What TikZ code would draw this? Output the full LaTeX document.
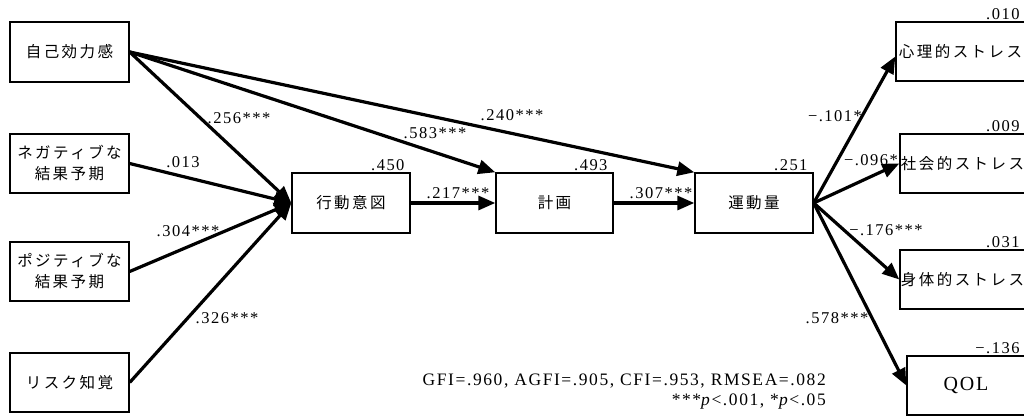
\documentclass[tikz,border=0pt]{standalone}
\usepackage{fontspec}
\setmainfont{Liberation Serif}
\newfontfamily\jpfont{Noto Sans CJK JP}[LetterSpace=16]
\newfontfamily\numfont{Liberation Serif}[LetterSpace=9]
\usetikzlibrary{arrows.meta, positioning}
\tikzset{
  varbox/.style={rectangle, draw=black, line width=1.4pt, fill=white, inner sep=0pt, align=center, font=\jpfont\fontsize{15.5}{21}\selectfont},
  coef/.style={inner sep=0pt, font=\numfont\fontsize{16.5}{18}\selectfont},
  rsq/.style={above left, inner sep=1pt, xshift=-5pt, font=\numfont\fontsize{16.5}{18}\selectfont},
  arrowline/.style={line width=3.2pt, -{Triangle[length=17pt,width=14pt]}}
}

\begin{document}
\begin{tikzpicture}[x=1pt, y=-1pt]
    \clip (0,0) rectangle (1024,419);

    % Variables de la izquierda
    \node[varbox, minimum width=119pt, minimum height=60pt] (self) at (69.5, 52) {自己効力感};
    \node[varbox, minimum width=119pt, minimum height=59pt] (neg) at (69.5, 163.5) {ネガティブな\\結果予期};
    \node[varbox, minimum width=119pt, minimum height=59pt] (pos) at (69.5, 271.5) {ポジティブな\\結果予期};
    \node[varbox, minimum width=119pt, minimum height=59pt] (risk) at (69.5, 382.5) {リスク知覚};

    % Cadena central
    \node[varbox, minimum width=118pt, minimum height=60pt] (intent) at (351, 203) {行動意図};
    \node[varbox, minimum width=117pt, minimum height=60pt] (plan) at (554.5, 203) {計画};
    \node[varbox, minimum width=118pt, minimum height=60pt] (amount) at (754, 203) {運動量};

    % Resultados (lado derecho, cortados por el borde)
    \node[varbox, minimum width=129pt, minimum height=59pt] (psy) at (960.5, 51.5) {心理的ストレス};
    \node[varbox, minimum width=125pt, minimum height=59pt] (soc) at (962.5, 163.5) {社会的ストレス};
    \node[varbox, minimum width=125pt, minimum height=59pt] (phys) at (962.5, 279.5) {身体的ストレス};
    \node[varbox, minimum width=118pt, minimum height=59pt, font=\numfont\fontsize{20}{21}\selectfont] (qol) at (966, 385.5) {QOL};

    % R cuadrado
    \node[rsq] (r450) at (intent.north east) {.450};
    \node[rsq] (r493) at (plan.north east) {.493};
    \node[rsq] (r251) at (amount.north east) {.251};
    \node[rsq] (r010) at (psy.north east) {.010};
    \node[rsq] (r009) at (soc.north east) {.009};
    \node[rsq] (r031) at (phys.north east) {.031};
    \node[rsq] (r136) at (qol.north east) {−.136};

    % Caminos
    \draw[arrowline] (self.east) -- (intent.west);
    \draw[arrowline] (neg.east) -- (intent.west);
    \draw[arrowline] (pos.east) -- (intent.west);
    \draw[arrowline] (risk.east) -- (intent.west);
    \draw[arrowline] (self.east) -- (plan.north west);
    \draw[arrowline] (self.east) -- (amount.north west);
    \draw[arrowline] (intent.east) -- (plan.west);
    \draw[arrowline] (plan.east) -- (amount.west);
    \draw[arrowline] (amount.east) -- ([yshift=-5pt]psy.west);
    \draw[arrowline] (amount.east) -- (soc.west);
    \draw[arrowline] (amount.east) -- (phys.west);
    \draw[arrowline] (amount.east) -- (qol.west);

    % Coeficientes
    \node[coef] (c256) at (239, 118) {.256***};
    \node[coef] (c013) at (183, 162) {.013};
    \node[coef] (c304) at (188, 231) {.304***};
    \node[coef] (c326) at (227, 318) {.326***};
    \node[coef] (c583) at (435, 133) {.583***};
    \node[coef] (c240) at (512, 115) {.240***};
    \node[coef] (c217) at (458, 193) {.217***};
    \node[coef] (c307) at (661, 193) {.307***};
    \node[coef] (c101) at (835, 116) {−.101*};
    \node[coef] (c096) at (871, 160) {−.096*};
    \node[coef] (c176) at (886, 230) {−.176***};
    \node[coef] (c578) at (837, 318) {.578***};

    % Ajuste del modelo
    \node[coef, align=right, anchor=east, font=\numfont\fontsize{17.5}{20}\selectfont] (fit) at (826, 392)
        {GFI=.960, AGFI=.905, CFI=.953, RMSEA=.082\\***\textit{p}<.001, *\textit{p}<.05};

\end{tikzpicture}
\end{document}
